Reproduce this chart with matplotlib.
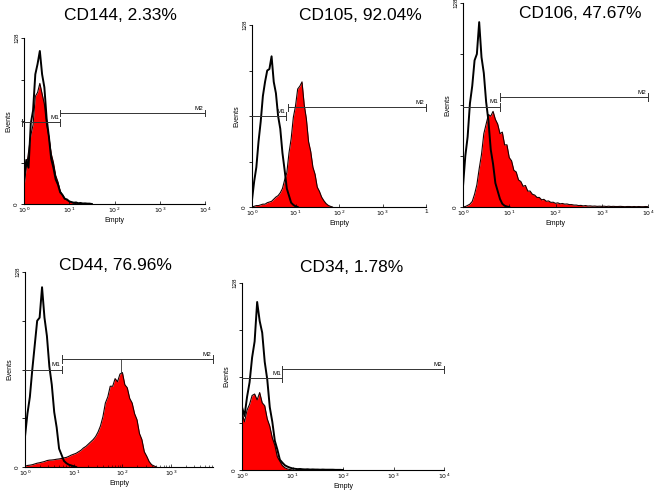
import numpy as np
import matplotlib.pyplot as plt

plt.rcParams['font.family'] = ['Liberation Sans', 'DejaVu Sans']

# histogram channels, 0.05 decade apart, starting at 10^0
step = 0.05

cd144_ctrl = [18, 34, 28, 62, 72, 100, 108, 118, 100, 90, 66, 52, 35, 28, 19, 15, 9, 7, 4, 3.5,
              2, 1.5, 1, 1.2, 0.6, 0.8, 0.4, 0.5, 0.3, 0.3, 0]
cd144_stain = [13, 28, 40, 53, 61, 83, 86, 93, 85, 77, 61, 52, 39, 32, 22, 17, 10, 7, 4.5, 3,
               2, 1.2, 0.6, 0.3, 0]

cd105_ctrl = [5, 18, 28, 46, 60, 78, 88, 96, 97, 106, 88, 80, 64, 55, 38, 26, 13, 8, 3, 1.5,
              0.5, 0]
cd105_stain = [0, 0.5, 1, 1, 1.5, 2, 2, 3, 3.5, 4, 5.5, 7, 8, 10, 13, 19, 24, 38, 48, 63,
               71, 83, 85, 88, 72, 62, 46, 39, 28, 23, 14, 11, 7, 4.5, 2.5, 1.2, 0.5, 0]

cd106_ctrl = [13, 32, 44, 65, 76, 92, 96, 116, 94, 84, 66, 54, 36, 27, 15, 10, 5, 2, 0.8, 0.3,
              0]
cd106_stain = [0, 0.3, 1, 1.8, 3.5, 8, 14, 24, 33, 46, 52, 58, 57, 60, 55, 52, 46, 47, 39, 39,
               31, 29, 23, 22, 17, 16, 13, 13.5, 10, 10, 8, 7.5, 6, 6, 4.5, 4.8, 3.6, 3.8, 2.9, 3.0,
               2.3, 2.6, 2.0, 2.2, 1.8, 1.9, 1.5, 1.5, 1.2, 1.2, 0.9, 1.0, 0.7, 0.9, 0.6, 0.7, 0.5, 0.6,
               0.4, 0.5, 0.4, 0.5, 0.3, 0.5, 0.3, 0.4, 0.3, 0.3, 0.4, 0.3, 0.2, 0.3, 0.3, 0.2, 0.3, 0.2,
               0.3, 0.2, 0.2, 0.3, 0.2]

cd44_ctrl = [20, 35, 46, 64, 80, 96, 98, 118, 98, 86, 66, 54, 36, 26, 12, 8, 4, 2.5, 1.5, 1,
             0.5, 0]
cd44_stain = [0.5, 1, 1.2, 1.5, 2, 2.5, 2.8, 3.2, 3.6, 4.2, 4.5, 4.6, 4.8, 5.1, 5.3, 5.6, 6, 6.3,
              7, 7.8, 8.4, 9, 10, 11, 12.5, 13.5, 15, 16.5, 18, 20, 23, 27, 33, 42, 46, 53, 53, 58,
              56, 61, 62, 54, 52, 45, 42, 35, 31, 22, 18, 10, 7, 3.5, 1.5, 0.7, 0]

cd34_ctrl = [43, 37, 50, 60, 77, 88, 115, 102, 94, 74, 62, 43, 33, 20, 14, 7, 5, 3.2, 2.3, 1.6,
             1.1, 0.8, 0.6, 0.7, 0.5, 0.4, 0.5, 0.3, 0.4, 0.3, 0.3, 0.2, 0.3, 0.2, 0.2, 0.2, 0.2,
             0.1, 0.1, 0.1, 0]
cd34_stain = [39, 33, 41, 45, 51, 52, 48, 53, 46, 44, 35, 30, 22, 17, 9, 6, 3, 1.5, 0.7, 0.3, 0]

titles = ['CD144, 2.33%', 'CD105, 92.04%', 'CD106, 47.67%', 'CD44, 76.96%', 'CD34, 1.78%']
# marker gates: (level, start decade, end decade)
m1_gates = [(63, -0.05, 0.8), (64, 0, 0.79), (63, 0, 0.8), (64, 0, 0.75), (63, 0, 0.8)]
m2_gates = [(70, 0.8, 4.0), (70, 0.82, 4.0), (69, 0.81, 4.0), (71, 0.75, 3.86), (69, 0.8, 4.0)]

fig = plt.figure(figsize=(6.61, 4.91), dpi=100)
W, H = 661, 491


def panel(box, ctrl, stain, title, tpos, m1, m2, xmax, xlabels):
    l, t, r, b = box
    ax = fig.add_axes([l / W, (H - b) / H, (r - l) / W, (b - t) / H])
    xs = 10 ** (np.arange(len(stain)) * step)
    xc = 10 ** (np.arange(len(ctrl)) * step)
    ax.fill_between(xs, 0, stain, color='#ff0000', lw=0, zorder=1)
    ax.plot(xs, stain, color='#1a0000', lw=0.8, zorder=2)
    ax.plot(xc, ctrl, color='black', lw=1.4, zorder=3)

    for (lev, a, e), name in [(m1, 'M1'), (m2, 'M2')]:
        x0, x1 = 10 ** a, 10 ** e
        ax.plot([x0, x1], [lev, lev], color='#333333', lw=0.7, zorder=4, clip_on=False)
        ax.plot([x0, x0], [lev - 2.5, lev + 2.5], color='#333333', lw=0.7, clip_on=False)
        ax.plot([x1, x1], [lev - 2.5, lev + 2.5], color='#333333', lw=0.7, clip_on=False)
        ax.text(x1 / 10 ** 0.03, lev + 1.5, name, fontsize=4.5, ha='right', va='bottom')

    ax.set_xscale('log')
    ax.set_xlim(1, 10 ** xmax)
    ax.set_ylim(0, 128)
    for s in ['top', 'right']:
        ax.spines[s].set_visible(False)
    ax.spines['left'].set_linewidth(0.8)
    ax.spines['bottom'].set_linewidth(0.8)
    ax.set_xticks([1, 10, 100, 1000, 10000][:len(xlabels)])
    ax.set_xticklabels(xlabels, fontsize=4.5)
    ax.tick_params(axis='x', which='major', direction='in', length=2, width=0.5, pad=1.5)
    ax.tick_params(axis='x', which='minor', direction='in', length=1.2, width=0.4)
    ax.set_yticks([0, 32, 64, 96, 128])
    ax.set_yticklabels(['0', '', '', '', '128'], fontsize=4.5, rotation=90, va='center')
    ax.tick_params(axis='y', direction='out', length=2.5, width=0.6, pad=1)
    ax.set_xlabel('Empty', fontsize=5, labelpad=1.5)
    ax.set_ylabel('Events', fontsize=5, labelpad=1)
    fig.text(tpos[0] / W, 1 - tpos[1] / H, title, fontsize=12.5, ha='center', va='center')
    return ax


dec = ['$10^0$', '$10^1$', '$10^2$', '$10^3$', '$10^4$']
panel((24, 38, 205, 204), cd144_ctrl, cd144_stain, titles[0], (120, 15),
      m1_gates[0], m2_gates[0], 4, dec)
panel((252, 25, 426, 207), cd105_ctrl, cd105_stain, titles[1], (360, 15),
      m1_gates[1], m2_gates[1], 4, dec[:4] + ['1'])
panel((463, 3, 648, 207), cd106_ctrl, cd106_stain, titles[2], (580, 14),
      m1_gates[2], m2_gates[2], 4, dec)
ax4 = panel((25, 272, 213, 467), cd44_ctrl, cd44_stain, titles[3], (115, 265),
            m1_gates[3], m2_gates[3], 3.86, dec[:4])
ax4.plot([10 ** 1.98, 10 ** 1.98], [62, 71], color='#333333', lw=0.6)
panel((242, 283, 444, 470), cd34_ctrl, cd34_stain, titles[4], (352, 267),
      m1_gates[4], m2_gates[4], 4, dec)

fig.savefig('out.png', dpi=100)
